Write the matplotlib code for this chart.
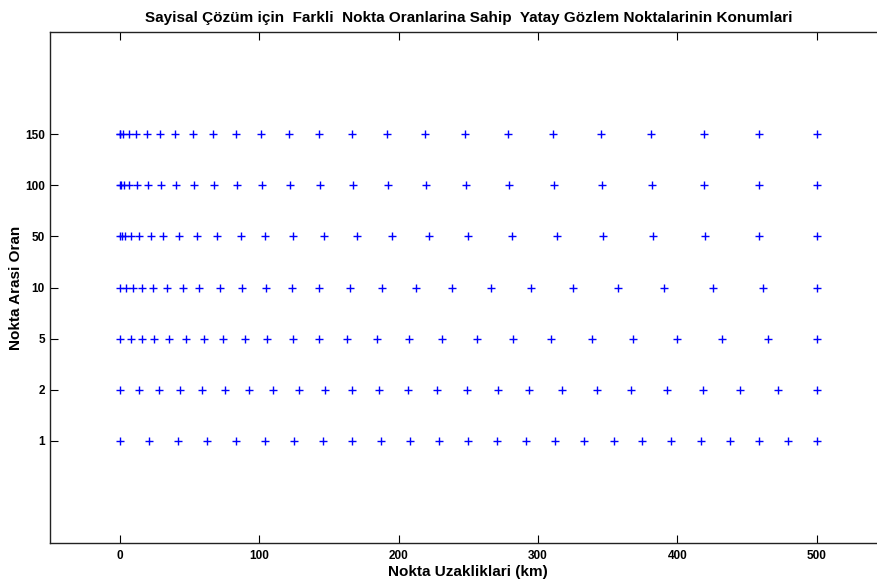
"""
konum grafigi: her nokta orani icin yatay gozlem noktalarinin km cinsinden yerleri
"""

import matplotlib
matplotlib.use('Agg')
import matplotlib.pyplot as plt

plt.rcParams['font.family'] = ['Liberation Sans', 'DejaVu Sans']
plt.rcParams['font.weight'] = 'bold'

# nokta araligi oranlari (y ekseni etiketleri)
oranlar = ['1', '2', '5', '10', '50', '100', '150']

# her oran icin gozlem noktasi uzakliklari (km)
x_oran1 = [0, 20.8, 41.7, 62.5, 83.3, 104.2, 125.0, 145.8, 166.7, 187.5, 208.3, 229.2, 250.0,
           270.8, 291.7, 312.5, 333.3, 354.2, 375.0, 395.8, 416.7, 437.5, 458.3, 479.2, 500]
x_oran2 = [0, 13.9, 28.2, 43.1, 59.1, 75.4, 92.8, 110.0, 128.2, 147.1, 166.3, 186.1, 206.9,
           227.7, 249.2, 271.1, 293.7, 317.4, 342.1, 366.7, 392.3, 418.6, 444.9, 472.0, 500]
x_oran5 = [0, 7.7, 15.6, 24.6, 35.2, 47.4, 60.3, 74.2, 89.5, 105.8, 124.0, 142.9, 163.2,
           184.7, 207.5, 230.9, 256.0, 282.4, 309.4, 338.6, 368.1, 399.7, 432.0, 465.0, 500]
x_oran10 = [0, 4.3, 9.1, 16.0, 23.9, 34.0, 45.0, 56.9, 71.8, 87.8, 104.6, 123.2, 143.1,
            165.1, 187.9, 212.5, 238.1, 266.1, 294.8, 325.4, 357.7, 390.5, 425.4, 461.3, 500]
x_oran50 = [0, 1.2, 3.6, 7.7, 13.9, 22.0, 30.6, 42.4, 55.5, 69.9, 86.6, 104.1, 124.0,
            146.4, 169.9, 195.4, 221.8, 250.0, 281.1, 313.4, 346.9, 382.8, 419.9, 458.9, 500]
x_oran100 = [0, 0.4, 2.6, 6.6, 12.3, 19.8, 29.1, 40.2, 53.0, 67.6, 84.0, 102.2, 122.2,
             143.9, 167.4, 192.6, 219.7, 248.5, 279.1, 311.5, 345.6, 381.6, 419.2, 458.8, 500]
x_oran150 = [0, 0.3, 2.3, 6.2, 11.8, 19.3, 28.5, 39.5, 52.3, 66.9, 83.2, 101.4, 121.3,
             143.1, 166.6, 191.9, 219.0, 247.9, 278.6, 311.0, 345.3, 381.3, 419.1, 458.7, 500]

satirlar = [x_oran1, x_oran2, x_oran5, x_oran10, x_oran50, x_oran100, x_oran150]

fig = plt.figure(figsize=(8.78, 5.84), dpi=100)
ax = fig.add_axes([0.0573, 0.0697, 0.9522, 0.876])

for i, xs in enumerate(satirlar):
    ax.plot(xs, [i + 1] * len(xs), '+', color='blue', markersize=6, markeredgewidth=1.0)

ax.set_xlim(-50, 550)
ax.set_ylim(-1, 9)
ax.set_xticks([0, 100, 200, 300, 400, 500])
ax.set_yticks(range(1, len(oranlar) + 1))
ax.set_yticklabels(oranlar)

ax.tick_params(direction='in', length=6, width=0.8, top=True, right=True,
               labelsize=8.5, colors='black')
ax.tick_params(axis='x', pad=5)
ax.tick_params(axis='y', pad=4)
for s in ax.spines.values():
    s.set_linewidth(1.0)
    s.set_color('#222222')

ax.set_title('Sayisal Çözüm için  Farkli  Nokta Oranlarina Sahip  Yatay Gözlem Noktalarinin Konumlari',
             fontsize=11, fontweight='bold', pad=7)
ax.set_xlabel('Nokta Uzakliklari (km)', fontsize=11, fontweight='bold', labelpad=2)
ax.set_ylabel('Nokta Arasi Oran', fontsize=11, fontweight='bold', labelpad=1)

fig.savefig('out.png', dpi=100)
